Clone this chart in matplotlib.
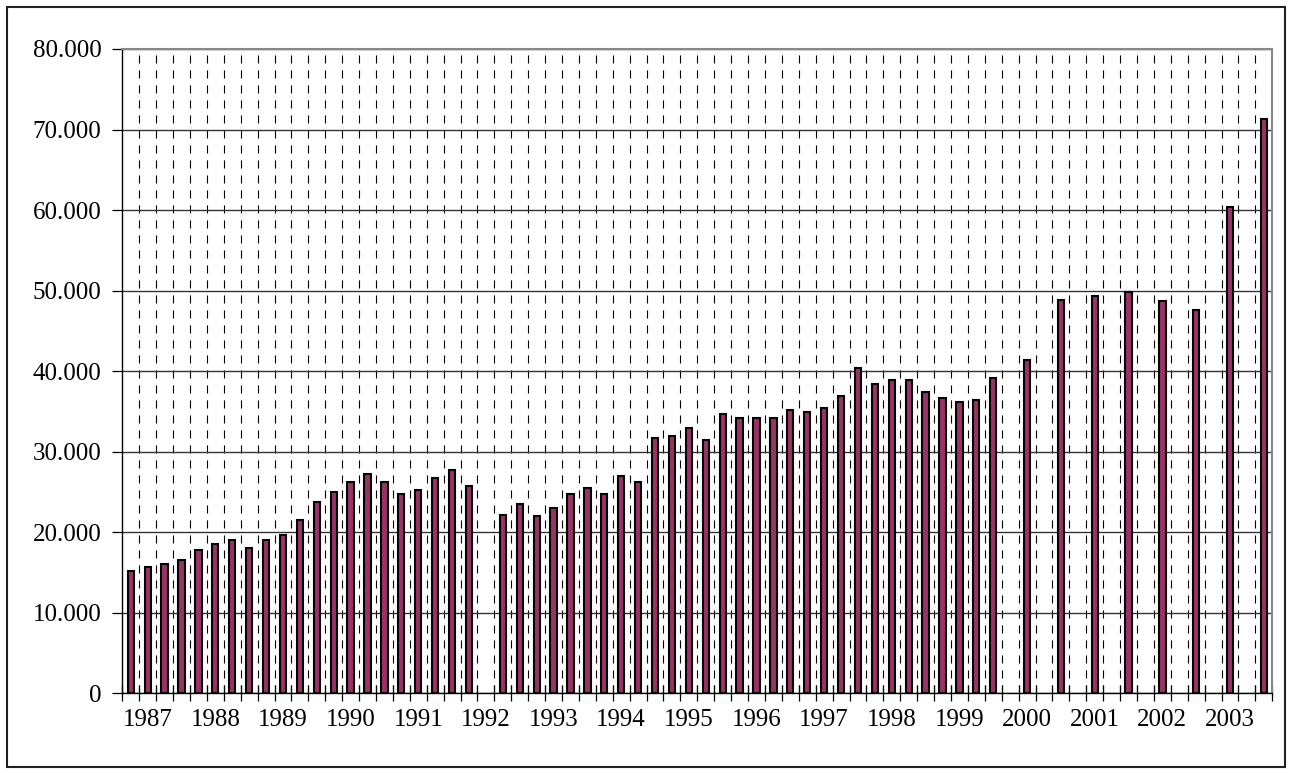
import numpy as np
import matplotlib
matplotlib.use("Agg")
import matplotlib.pyplot as plt
from matplotlib.ticker import FuncFormatter, FixedLocator
from matplotlib.patches import Rectangle

# Quarterly categories 1987Q1 .. 2003Q4 (68 categories); NaN = no value
years = list(range(1987, 2004))
quarters = [f"{y}Q{q}" for y in years for q in range(1, 5)]
values = [
    15200, 15700, 16000, 16550, 17750, 18500, 19000, 18000,
    19000, 19700, 21500, 23700, 24950, 26200, 27200, 26200,
    24750, 25250, 26750, 27700, 25750, np.nan, 22200, 23500,
    22000, 23000, 24750, 25500, 24750, 27000, 26250, 31650,
    31900, 32900, 31400, 34700, 34200, 34200, 34200, 35200,
    34950, 35400, 36900, 40350, 38400, 38900, 38900, 37400,
    36650, 36150, 36400, 39200, np.nan, 41400, np.nan, 48800,
    np.nan, 49350, np.nan, 49850, np.nan, 48650, np.nan, 47600,
    np.nan, 60350, np.nan, 71300,
]
year_labels = [str(y) for y in years]
label_positions = [1 + 4 * k for k in range(len(years))]  # label sits on 2nd quarter
y_ticks = list(range(0, 80001, 10000))

plt.rcParams['font.family'] = ['Liberation Serif', 'DejaVu Serif']
plt.rcParams['lines.scale_dashes'] = False

W, H = 1292, 773
fig = plt.figure(figsize=(W / 100, H / 100), dpi=100)
ax = fig.add_axes([122.3 / W, (H - 693.3) / H, 1150 / W, 644.3 / H])

x = np.arange(len(quarters))
ax.bar(x, values, width=0.37, color='#993366', edgecolor='black', linewidth=1.5, zorder=3)

ax.set_xlim(-0.5, len(quarters) - 0.5)
ax.set_ylim(0, 80000)

# horizontal gridlines
ax.yaxis.set_major_locator(FixedLocator(y_ticks))
ax.yaxis.set_major_formatter(FuncFormatter(lambda v, p: f"{int(v):,}".replace(",", ".")))
ax.grid(axis='y', color='#333333', linewidth=1.0, zorder=1)

# dashed vertical gridlines at category boundaries
boundaries = np.arange(len(quarters) + 1) - 0.5
for b in boundaries[1:-1]:
    ax.axvline(b, color='black', linewidth=0.8, dashes=(5.8, 5.0), zorder=1)

# x ticks: marks at boundaries, labels at label positions
ax.set_xticks(boundaries)
ax.set_xticklabels([])
ax.set_xticks(label_positions, minor=True)
ax.set_xticklabels(year_labels, minor=True)
ax.tick_params(axis='x', which='major', direction='inout', length=11, width=0.9, color='black')
ax.tick_params(axis='x', which='minor', length=0, pad=11, labelsize=18)
ax.tick_params(axis='y', direction='out', length=7, width=0.9, pad=8, labelsize=18, color='black')

for side in ['top', 'right']:
    ax.spines[side].set_color('#888888')
    ax.spines[side].set_linewidth(1.5)
for side in ['left', 'bottom']:
    ax.spines[side].set_color('black')
    ax.spines[side].set_linewidth(1.0)

# outer chart frame
fig.patches.append(Rectangle((7 / W, 6 / H), 1278 / W, 760 / H, transform=fig.transFigure,
                             fill=False, edgecolor='#222222', linewidth=1.5))

fig.savefig('out.png', dpi=100)
